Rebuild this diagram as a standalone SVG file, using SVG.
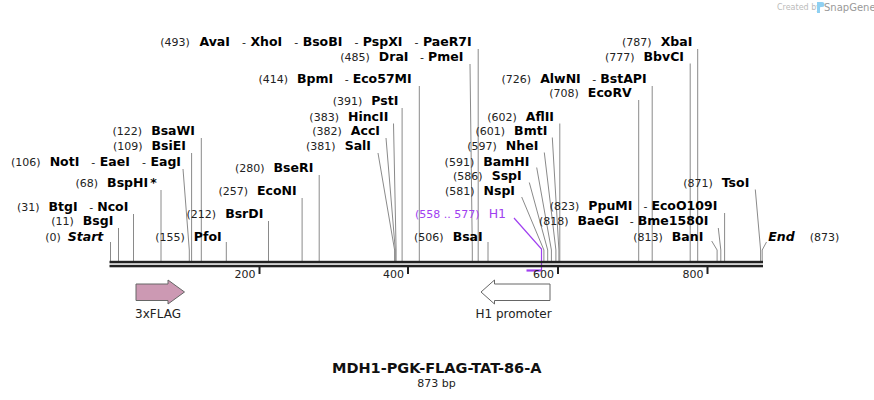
<svg xmlns="http://www.w3.org/2000/svg" width="874" height="400" viewBox="0 0 874 400">
<defs>
<style>
text{font-family:"DejaVu Sans","Verdana",sans-serif;}
.t{font-size:11px;fill:#222;}
.n{font-size:11px;font-weight:normal;fill:#222;}
.e{font-size:12.5px;font-weight:bold;fill:#000;}
.i{font-style:italic;}
.p{fill:#a040f0;font-size:11px;}
.ph{fill:#a040f0;font-size:12.5px;}
.ln{stroke:#8a8a8a;stroke-width:1;fill:none;}
.pl{stroke:#a040f0;stroke-width:1.2;fill:none;}
.bar{fill:#222;}
.tick{stroke:#222;stroke-width:2;}
.feat{stroke:#666;stroke-width:1;}
.fl{font-size:12px;fill:#222;text-anchor:middle;}
</style>
</defs>
<rect width="874" height="400" fill="#fff"/>

<g id="logo">
<text x="777" y="10" style="font-size:8px;fill:#bbb">Created by</text>
<path d="M817,2 h5 a2,2 0 0 1 0,5 h-2 v6 h-3 z" fill="#8fd0f2"/>
<text x="824" y="11" style="font-size:10px;fill:#999">SnapGene</text>
</g>

<g id="connectors">
<polyline class="pl" points="514,218 541.5,249 541.5,271"/>
<line class="pl" x1="526.5" y1="270.5" x2="541.5" y2="270.5" style="stroke-width:2.2"/>
<line class="ln" x1="110.5" y1="242" x2="110.5" y2="261"/>
<line class="ln" x1="118.5" y1="228" x2="118.5" y2="261"/>
<line class="ln" x1="133.5" y1="214" x2="133.5" y2="261"/>
<line class="ln" x1="161" y1="190" x2="161" y2="261"/>
<polyline class="ln" points="183,169 189.3,250 189.3,261"/>
<line class="ln" x1="191.6" y1="153" x2="191.6" y2="261"/>
<line class="ln" x1="201.3" y1="138" x2="201.3" y2="261"/>
<line class="ln" x1="226.3" y1="242" x2="226.3" y2="261"/>
<line class="ln" x1="268.5" y1="221" x2="268.5" y2="261"/>
<line class="ln" x1="302.1" y1="198" x2="302.1" y2="261"/>
<line class="ln" x1="319.2" y1="175" x2="319.2" y2="261"/>
<polyline class="ln" points="378,153 394.6,250 394.6,261"/>
<polyline class="ln" points="386,138 395.3,250 395.3,261"/>
<polyline class="ln" points="393.5,123.5 396.1,250 396.1,261"/>
<line class="ln" x1="402.1" y1="108" x2="402.1" y2="261"/>
<line class="ln" x1="419.3" y1="86" x2="419.3" y2="261"/>
<polyline class="ln" points="470,64 472.3,250 472.3,261"/>
<line class="ln" x1="478.2" y1="49" x2="478.2" y2="261"/>
<line class="ln" x1="488" y1="242" x2="488" y2="261"/>
<polyline class="ln" points="521.7,197 543.9,250 543.9,261"/>
<polyline class="ln" points="529.3,182.5 547.7,250 547.7,261"/>
<polyline class="ln" points="536.7,167.5 551.4,250 551.4,261"/>
<polyline class="ln" points="544.3,152.5 555.9,250 555.9,261"/>
<polyline class="ln" points="552.3,137.5 558.9,250 558.9,261"/>
<line class="ln" x1="559.8" y1="123.5" x2="559.8" y2="261"/>
<line class="ln" x1="638.7" y1="100" x2="638.7" y2="261"/>
<line class="ln" x1="652.2" y1="86" x2="652.2" y2="261"/>
<line class="ln" x1="690.2" y1="63.5" x2="690.2" y2="261"/>
<line class="ln" x1="697.7" y1="49" x2="697.7" y2="261"/>
<polyline class="ln" points="711.7,241 717.1,250 717.1,261"/>
<polyline class="ln" points="718.3,228 720.8,250 720.8,261"/>
<line class="ln" x1="724.6" y1="213" x2="724.6" y2="261"/>
<polyline class="ln" points="755.3,189.5 760.6,250 760.6,261"/>
<polyline class="ln" points="766.5,242 762.2,250 762.2,261"/>
</g>

<g id="axis">
<rect class="bar" x="109.5" y="260.8" width="653.5" height="2.5"/>
<rect class="bar" x="109.5" y="264.8" width="653.5" height="2.5"/>
<line class="tick" x1="259.5" y1="267" x2="259.5" y2="274"/>
<line class="tick" x1="408" y1="267" x2="408" y2="274"/>
<line class="tick" x1="558" y1="267" x2="558" y2="274"/>
<line class="tick" x1="707.5" y1="267" x2="707.5" y2="274"/>
<text class="t" x="255.5" y="278" text-anchor="end">200</text>
<text class="t" x="404" y="278" text-anchor="end">400</text>
<text class="t" x="554" y="278" text-anchor="end">600</text>
<text class="t" x="703.5" y="278" text-anchor="end">800</text>
</g>

<g id="site-start"><text x="103.3" y="240.7" text-anchor="end"><tspan class="n">(0)</tspan><tspan class="e i" dx="7">Start</tspan></text></g>
<g id="site-11"><text x="113.3" y="225" text-anchor="end"><tspan class="n">(11)</tspan><tspan class="e" dx="9">BsgI</tspan></text></g>
<g id="site-31"><text x="128.3" y="211" text-anchor="end"><tspan class="n">(31)</tspan><tspan class="e" dx="9">BtgI</tspan><tspan class="n" dx="11.5">-</tspan><tspan class="e" dx="4">NcoI</tspan></text></g>
<g id="site-68"><text x="156.7" y="186.7" text-anchor="end"><tspan class="n">(68)</tspan><tspan class="e" dx="9">BspHI</tspan><tspan class="e" dx="2">*</tspan></text></g>
<g id="site-106"><text x="181" y="166" text-anchor="end"><tspan class="n">(106)</tspan><tspan class="e" dx="9">NotI</tspan><tspan class="n" dx="12">-</tspan><tspan class="e" dx="4.5">EaeI</tspan><tspan class="n" dx="12">-</tspan><tspan class="e" dx="4.5">EagI</tspan></text></g>
<g id="site-109"><text x="186" y="150" text-anchor="end"><tspan class="n">(109)</tspan><tspan class="e" dx="9">BsiEI</tspan></text></g>
<g id="site-122"><text x="195" y="135" text-anchor="end"><tspan class="n">(122)</tspan><tspan class="e" dx="9">BsaWI</tspan></text></g>
<g id="site-155"><text x="221.7" y="240.7" text-anchor="end"><tspan class="n">(155)</tspan><tspan class="e" dx="9">PfoI</tspan></text></g>
<g id="site-212"><text x="263.3" y="218" text-anchor="end"><tspan class="n">(212)</tspan><tspan class="e" dx="9">BsrDI</tspan></text></g>
<g id="site-257"><text x="296.7" y="195" text-anchor="end"><tspan class="n">(257)</tspan><tspan class="e" dx="9">EcoNI</tspan></text></g>
<g id="site-280"><text x="313.3" y="172" text-anchor="end"><tspan class="n">(280)</tspan><tspan class="e" dx="9">BseRI</tspan></text></g>
<g id="site-381"><text x="371" y="150" text-anchor="end"><tspan class="n">(381)</tspan><tspan class="e" dx="9">SalI</tspan></text></g>
<g id="site-382"><text x="380" y="135" text-anchor="end"><tspan class="n">(382)</tspan><tspan class="e" dx="9">AccI</tspan></text></g>
<g id="site-383"><text x="388.3" y="120.5" text-anchor="end"><tspan class="n">(383)</tspan><tspan class="e" dx="9">HincII</tspan></text></g>
<g id="site-391"><text x="398.3" y="105" text-anchor="end"><tspan class="n">(391)</tspan><tspan class="e" dx="9">PstI</tspan></text></g>
<g id="site-414"><text x="411.7" y="83.3" text-anchor="end"><tspan class="n">(414)</tspan><tspan class="e" dx="9">BpmI</tspan><tspan class="n" dx="11.5">-</tspan><tspan class="e" dx="4">Eco57MI</tspan></text></g>
<g id="site-485"><text x="463.3" y="61" text-anchor="end"><tspan class="n">(485)</tspan><tspan class="e" dx="9">DraI</tspan><tspan class="n" dx="11.5">-</tspan><tspan class="e" dx="4">PmeI</tspan></text></g>
<g id="site-493"><text x="471.7" y="46" text-anchor="end"><tspan class="n">(493)</tspan><tspan class="e" dx="9.5">AvaI</tspan><tspan class="n" dx="12">-</tspan><tspan class="e" dx="4.5">XhoI</tspan><tspan class="n" dx="12">-</tspan><tspan class="e" dx="4.5">BsoBI</tspan><tspan class="n" dx="12">-</tspan><tspan class="e" dx="4.5">PspXI</tspan><tspan class="n" dx="12">-</tspan><tspan class="e" dx="4.5">PaeR7I</tspan></text></g>
<g id="site-506"><text x="482.7" y="240.7" text-anchor="end"><tspan class="n">(506)</tspan><tspan class="e" dx="9">BsaI</tspan></text></g>
<g id="primer-H1"><text x="506" y="217.5" text-anchor="end"><tspan class="p">(558 .. 577)</tspan><tspan class="ph" dx="9">H1</tspan></text></g>
<g id="site-581"><text x="515" y="195" text-anchor="end"><tspan class="n">(581)</tspan><tspan class="e" dx="9">NspI</tspan></text></g>
<g id="site-586"><text x="521.7" y="180" text-anchor="end"><tspan class="n">(586)</tspan><tspan class="e" dx="9">SspI</tspan></text></g>
<g id="site-591"><text x="529.3" y="165.7" text-anchor="end"><tspan class="n">(591)</tspan><tspan class="e" dx="9">BamHI</tspan></text></g>
<g id="site-597"><text x="538.3" y="150" text-anchor="end"><tspan class="n">(597)</tspan><tspan class="e" dx="9">NheI</tspan></text></g>
<g id="site-601"><text x="547.3" y="135" text-anchor="end"><tspan class="n">(601)</tspan><tspan class="e" dx="9">BmtI</tspan></text></g>
<g id="site-602"><text x="554" y="120.7" text-anchor="end"><tspan class="n">(602)</tspan><tspan class="e" dx="9">AflII</tspan></text></g>
<g id="site-708"><text x="631.7" y="97" text-anchor="end"><tspan class="n">(708)</tspan><tspan class="e" dx="9">EcoRV</tspan></text></g>
<g id="site-726"><text x="646.7" y="83.3" text-anchor="end"><tspan class="n">(726)</tspan><tspan class="e" dx="9">AlwNI</tspan><tspan class="n" dx="11.5">-</tspan><tspan class="e" dx="4">BstAPI</tspan></text></g>
<g id="site-777"><text x="684" y="60.5" text-anchor="end"><tspan class="n">(777)</tspan><tspan class="e" dx="9">BbvCI</tspan></text></g>
<g id="site-787"><text x="692.3" y="46" text-anchor="end"><tspan class="n">(787)</tspan><tspan class="e" dx="9">XbaI</tspan></text></g>
<g id="site-813"><text x="703.3" y="240.5" text-anchor="end"><tspan class="n">(813)</tspan><tspan class="e" dx="9">BanI</tspan></text></g>
<g id="site-818"><text x="708.3" y="225" text-anchor="end"><tspan class="n">(818)</tspan><tspan class="e" dx="9">BaeGI</tspan><tspan class="n" dx="11">-</tspan><tspan class="e" dx="4">Bme1580I</tspan></text></g>
<g id="site-823"><text x="717.3" y="210" text-anchor="end"><tspan class="n">(823)</tspan><tspan class="e" dx="9">PpuMI</tspan><tspan class="n" dx="11">-</tspan><tspan class="e" dx="4">EcoO109I</tspan></text></g>
<g id="site-871"><text x="749.3" y="186.7" text-anchor="end"><tspan class="n">(871)</tspan><tspan class="e" dx="9">TsoI</tspan></text></g>
<g id="site-end"><text x="768.3" y="240.5"><tspan class="e i">End</tspan><tspan class="n" dx="15">(873)</tspan></text></g>

<g id="feature-3xFLAG">
<path class="feat" d="M136,284 H168 V280 L184.5,292 L168,304 V300.5 H136 Z" fill="#cc99b3"/>
<text class="fl" x="158" y="317.5">3xFLAG</text>
</g>
<g id="feature-H1-promoter">
<path class="feat" d="M550,284 H494.5 V280 L481,292 L494.5,304 V300.5 H550 Z" fill="#fff"/>
<text class="fl" x="513.5" y="317.5">H1 promoter</text>
</g>

<g id="title">
<text x="436.7" y="373.3" text-anchor="middle" style="font-size:14.5px;font-weight:bold;fill:#111">MDH1-PGK-FLAG-TAT-86-A</text>
<text x="436.5" y="386.7" text-anchor="middle" style="font-size:11px;fill:#222">873 bp</text>
</g>
</svg>
